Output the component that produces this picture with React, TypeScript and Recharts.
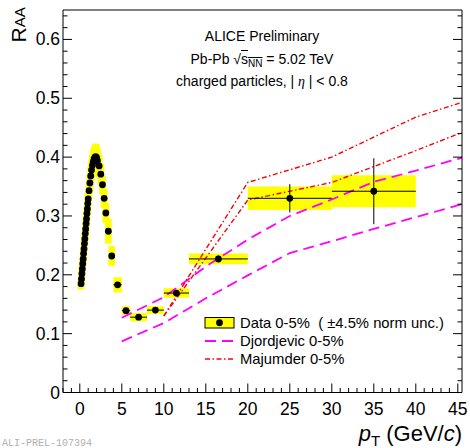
import React from "react";
import {
  ComposedChart,
  ErrorBar,
  Line,
  ReferenceArea,
  Scatter,
  XAxis,
  YAxis,
} from "recharts";

const W = 470;
const H = 448;
const FONT = '"Liberation Sans", Arial, Helvetica, sans-serif';
const X_DOMAIN: [number, number] = [-2, 45.5];
const Y_DOMAIN: [number, number] = [0, 0.65];
const DOT_R = 3.4;
const LOW_BOX_HALF = 0.4; // syst. box half-width for the fine low-pT points

// fine low-pT points (rising edge + peak + falling edge)
const lowPt = [
  0.15, 0.2, 0.25, 0.3, 0.35, 0.4, 0.45, 0.5, 0.55, 0.6, 0.65, 0.7, 0.75, 0.8,
  0.85, 0.9, 0.95, 1.0, 1.1, 1.2, 1.3, 1.4, 1.5, 1.6, 1.7, 1.8, 1.9, 2.0, 2.1,
  2.3, 2.5, 2.7, 2.9, 3.1, 3.4, 3.8,
];
const lowRaa = [
  0.185, 0.193, 0.202, 0.21, 0.219, 0.227, 0.236, 0.244, 0.253, 0.261, 0.27,
  0.278, 0.287, 0.295, 0.304, 0.312, 0.321, 0.329, 0.343, 0.356, 0.368, 0.378,
  0.386, 0.392, 0.397, 0.4, 0.401, 0.399, 0.394, 0.385, 0.371, 0.353, 0.33,
  0.305, 0.274, 0.232,
];
const lowSys = [
  0.01, 0.01, 0.01, 0.01, 0.01, 0.01, 0.01, 0.01, 0.01, 0.01, 0.011, 0.011,
  0.011, 0.012, 0.012, 0.012, 0.013, 0.013, 0.014, 0.015, 0.016, 0.017, 0.018,
  0.019, 0.02, 0.021, 0.022, 0.022, 0.02, 0.019, 0.018, 0.016, 0.016, 0.017,
  0.021, 0.017,
];

// wide bins at higher pT
const binLo = [4, 5, 6, 8, 10, 13, 20, 30];
const binHi = [5, 6, 8, 10, 13, 20, 30, 40];
const binRaa = [0.183, 0.139, 0.128, 0.14, 0.169, 0.227, 0.33, 0.342];
const binStat = [0.003, 0.003, 0.003, 0.003, 0.004, 0.006, 0.024, 0.056];
const binSys = [0.013, 0.0075, 0.007, 0.0065, 0.008, 0.009, 0.02, 0.027];

// Djordjevic band (upper / lower edge)
const djPt = [5, 10, 15, 20, 25, 30, 35, 40, 45.5];
const djHigh = [0.127, 0.162, 0.214, 0.26, 0.3, 0.328, 0.358, 0.377, 0.399];
const djLow = [0.087, 0.118, 0.16, 0.199, 0.237, 0.257, 0.278, 0.298, 0.32];

// Majumder band (upper / lower edge)
const majPt = [10, 20, 30, 40, 45.5];
const majHigh = [0.13, 0.357, 0.4, 0.468, 0.493];
const majLow = [0.13, 0.327, 0.357, 0.411, 0.442];

const xMajor = [0, 5, 10, 15, 20, 25, 30, 35, 40, 45];
const yMajor = [0, 0.1, 0.2, 0.3, 0.4, 0.5, 0.6];
const xTicks = Array.from({ length: 48 }, (_, i) => i - 2);
const yTicks = Array.from({ length: 33 }, (_, i) => +(i * 0.02).toFixed(2));

const lowData = lowPt.map((x, i) => ({ x, y: lowRaa[i] }));
const binData = binLo.map((lo, i) => ({
  x: (lo + binHi[i]) / 2,
  y: binRaa[i],
  ex: (binHi[i] - lo) / 2,
  ey: binStat[i],
}));
const boxes = [
  ...lowPt.map((x, i) => ({
    x1: x - LOW_BOX_HALF,
    x2: x + LOW_BOX_HALF,
    y1: lowRaa[i] - lowSys[i],
    y2: lowRaa[i] + lowSys[i],
  })),
  ...binLo.map((lo, i) => ({
    x1: lo,
    x2: binHi[i],
    y1: binRaa[i] - binSys[i],
    y2: binRaa[i] + binSys[i],
  })),
];
const toLine = (xs: number[], ys: number[]) => xs.map((x, i) => ({ x, y: ys[i] }));

const near = (a: number, b: number) => Math.abs(a - b) < 1e-6;

function XTick({ x, y, payload, side }: any) {
  const major = xMajor.some((m) => near(m, payload.value));
  const len = major ? 9 : 4.5;
  const dir = side === "bottom" ? -1 : 1;
  return (
    <g>
      <line x1={x} x2={x} y1={y} y2={y + dir * len} stroke="#000" />
      {side === "bottom" && major && (
        <text x={x} y={y + 22.5} textAnchor="middle" fontSize={17.5} fontFamily={FONT} fill="#000">
          {payload.value}
        </text>
      )}
    </g>
  );
}

function YTick({ x, y, payload, side }: any) {
  const major = yMajor.some((m) => near(m, payload.value));
  const len = major ? 9 : 4.5;
  const dir = side === "left" ? 1 : -1;
  return (
    <g>
      <line x1={x} x2={x + dir * len} y1={y} y2={y} stroke="#000" />
      {side === "left" && major && (
        <text x={x - 3} y={y + 6} textAnchor="end" fontSize={17.5} fontFamily={FONT} fill="#000">
          {payload.value === 0 ? "0" : payload.value.toFixed(1)}
        </text>
      )}
    </g>
  );
}

const dot = (p: any) => <circle cx={p.cx} cy={p.cy} r={DOT_R} fill="#000" />;

const MAGENTA = "#ff00ff";
const RED = "#ff0000";
const DJ_DASH = "11 6";
const MAJ_DASH = "5 2.5 1.5 2.5";

function TextLine({ baseline, children, size = 14 }: any) {
  return (
    <div
      style={{
        position: "absolute",
        left: 112,
        width: 300,
        top: baseline - 0.847 * size,
        fontSize: size,
        lineHeight: `${size}px`,
        textAlign: "center",
        whiteSpace: "pre",
      }}
    >
      {children}
    </div>
  );
}

export default function App() {
  return (
    <div
      style={{
        position: "absolute",
        left: 0,
        top: 0,
        width: W,
        height: H,
        background: "#fff",
        fontFamily: FONT,
        color: "#000",
        overflow: "hidden",
      }}
    >
      <ComposedChart width={W} height={H} margin={{ top: 9, right: 7, bottom: 54.5, left: 62 }}>
        <XAxis
          xAxisId="b"
          type="number"
          dataKey="x"
          domain={X_DOMAIN}
          allowDataOverflow
          ticks={xTicks}
          interval={0}
          height={1}
          tickSize={0}
          tickMargin={0}
          tickLine={false}
          axisLine={{ stroke: "#000" }}
          tick={(p: any) => <XTick {...p} side="bottom" />}
        />
        <XAxis
          xAxisId="t"
          orientation="top"
          type="number"
          domain={X_DOMAIN}
          allowDataOverflow
          ticks={xTicks}
          interval={0}
          height={1}
          tickSize={0}
          tickMargin={0}
          tickLine={false}
          axisLine={{ stroke: "#000" }}
          tick={(p: any) => <XTick {...p} side="top" />}
        />
        <YAxis
          yAxisId="l"
          type="number"
          dataKey="y"
          domain={Y_DOMAIN}
          allowDataOverflow
          ticks={yTicks}
          interval={0}
          width={1}
          tickSize={0}
          tickMargin={0}
          tickLine={false}
          axisLine={{ stroke: "#000" }}
          tick={(p: any) => <YTick {...p} side="left" />}
        />
        <YAxis
          yAxisId="r"
          orientation="right"
          type="number"
          domain={Y_DOMAIN}
          allowDataOverflow
          ticks={yTicks}
          interval={0}
          width={1}
          tickSize={0}
          tickMargin={0}
          tickLine={false}
          axisLine={{ stroke: "#000" }}
          tick={(p: any) => <YTick {...p} side="right" />}
        />

        {boxes.map((b, i) => (
          <ReferenceArea
            key={i}
            xAxisId="b"
            yAxisId="l"
            x1={b.x1}
            x2={b.x2}
            y1={b.y1}
            y2={b.y2}
            fill="#ffff00"
            fillOpacity={1}
            stroke="none"
          />
        ))}

        <Line xAxisId="b" yAxisId="l" data={toLine(djPt, djHigh)} dataKey="y" stroke={MAGENTA}
          strokeWidth={1.8} strokeDasharray={DJ_DASH} dot={false} activeDot={false} isAnimationActive={false} />
        <Line xAxisId="b" yAxisId="l" data={toLine(djPt, djLow)} dataKey="y" stroke={MAGENTA}
          strokeWidth={1.8} strokeDasharray={DJ_DASH} dot={false} activeDot={false} isAnimationActive={false} />
        <Line xAxisId="b" yAxisId="l" data={toLine(majPt, majHigh)} dataKey="y" stroke={RED}
          strokeWidth={1.4} strokeDasharray={MAJ_DASH} dot={false} activeDot={false} isAnimationActive={false} />
        <Line xAxisId="b" yAxisId="l" data={toLine(majPt, majLow)} dataKey="y" stroke={RED}
          strokeWidth={1.4} strokeDasharray={MAJ_DASH} dot={false} activeDot={false} isAnimationActive={false} />

        <Scatter xAxisId="b" yAxisId="l" data={lowData} dataKey="y" shape={dot} isAnimationActive={false} />
        <Scatter xAxisId="b" yAxisId="l" data={binData} dataKey="y" shape={dot} isAnimationActive={false}>
          <ErrorBar dataKey="ex" direction="x" width={0} stroke="#000" strokeWidth={1} />
          <ErrorBar dataKey="ey" direction="y" width={0} stroke="#000" strokeWidth={1} />
        </Scatter>
      </ComposedChart>

      <TextLine baseline={40.5}>ALICE Preliminary</TextLine>
      <TextLine baseline={63.5}>
        {"Pb-Pb "}
        <span>
          √
          <span style={{ textDecoration: "overline" }}>
            s
            <span style={{ fontSize: 10, position: "relative", top: 3, lineHeight: 0 }}>NN</span>
          </span>
        </span>
        {" = 5.02 TeV"}
      </TextLine>
      <TextLine baseline={86}>
        {"charged particles, | "}
        <i style={{ fontFamily: '"Liberation Serif", serif' }}>η</i>
        {" | < 0.8"}
      </TextLine>

      <svg width={W} height={H} style={{ position: "absolute", left: 0, top: 0, pointerEvents: "none" }}>
        <text transform="translate(26,42.5) rotate(-90)" fontSize={21} fontFamily={FONT} fill="#000">
          R<tspan fontSize={15} dy={-1}>AA</tspan>
        </text>
        <text x={462} y={441} textAnchor="end" fontSize={22} fontFamily={FONT} fill="#000">
          <tspan fontStyle="italic">p</tspan>
          <tspan fontSize={15} dy={5}>T</tspan>
          <tspan dy={-5}>{" (GeV/"}</tspan>
          <tspan fontStyle="italic">c</tspan>
          <tspan>)</tspan>
        </text>
        <text x={2} y={446} fontSize={10} fontFamily='"Liberation Mono", monospace' fill="#b0b0b0">
          ALI-PREL-107394
        </text>

        {/* legend */}
        <rect x={205} y={317.5} width={29} height={10.5} fill="#ffff00" stroke="#000" strokeWidth={1} />
        <circle cx={219.5} cy={322.75} r={DOT_R} fill="#000" />
        <line x1={205} x2={234} y1={341} y2={341} stroke={MAGENTA} strokeWidth={1.8} strokeDasharray={DJ_DASH} />
        <line x1={205} x2={234} y1={359} y2={359} stroke={RED} strokeWidth={1.4} strokeDasharray={MAJ_DASH} />
        <g fontSize={14.8} fontFamily={FONT} fill="#000">
          <text x={240} y={327.5} xmlSpace="preserve">{"Data 0-5%  ( ±4.5% norm unc.)"}</text>
          <text x={240} y={345.5}>Djordjevic 0-5%</text>
          <text x={240} y={363.5}>Majumder 0-5%</text>
        </g>
      </svg>
    </div>
  );
}
